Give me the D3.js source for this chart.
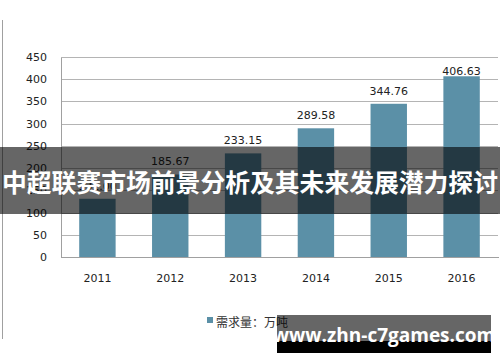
<!DOCTYPE html>
<html>
<head>
<meta charset="utf-8">
<script src="https://cdn.jsdelivr.net/npm/d3@7"></script>
<style>
  body { margin: 0; background: #fff; }
  svg { display: block; }
</style>
</head>
<body>
<div id="chart"></div>
<script>
const years = ["2011", "2012", "2013", "2014", "2015", "2016"];
const demand = [131.0, 185.67, 233.15, 289.58, 344.76, 406.63];
const yTicks = [0, 50, 100, 150, 200, 250, 300, 350, 400, 450];
const legendLabel = "需求量：万吨";
const title = "中超联赛市场前景分析及其未来发展潜力探讨";
const watermark = "www.zhn-c7games.com";

const W = 500, H = 362;
const margin = { top: 57, right: 2, bottom: 105, left: 61 };
const width = W - margin.left - margin.right,
  height = H - margin.top - margin.bottom;

const svg = d3.select("#chart").append("svg")
  .attr("width", W).attr("height", H);

// outer frame line on the left
svg.append("line")
  .attr("x1", 2.5).attr("x2", 2.5).attr("y1", 20).attr("y2", 339)
  .attr("stroke", "#a0a0a0");

const g = svg.append("g")
  .attr("transform", `translate(${margin.left},${margin.top})`);

const x = d3.scaleBand().domain(years).range([0, width]).paddingInner(0.5).paddingOuter(0.25);
const y = d3.scaleLinear().domain([0, 450]).range([height, 0]);

// grid
g.append("g")
  .call(d3.axisLeft(y).tickValues(yTicks).tickSize(-width).tickFormat(""))
  .call(s => s.select(".domain").remove())
  .selectAll("line").attr("stroke", "#b4b4b4").attr("shape-rendering", "crispEdges");

// y labels
g.append("g")
  .call(d3.axisLeft(y).tickValues(yTicks).tickSize(0).tickPadding(14))
  .call(s => s.select(".domain").attr("stroke", "#a0a0a0").attr("shape-rendering", "crispEdges"))
  .selectAll("text")
  .attr("font-family", "DejaVu Sans").attr("font-size", 11).attr("fill", "#222");

// bars
g.selectAll(".bar").data(demand).enter().append("rect")
  .attr("class", "bar")
  .attr("x", (d, i) => x(years[i]))
  .attr("width", x.bandwidth())
  .attr("y", d => y(d))
  .attr("height", d => height - y(d))
  .attr("fill", "#5b90a7");

// x axis
g.append("g")
  .attr("transform", `translate(0,${height})`)
  .call(d3.axisBottom(x).tickSize(0).tickPadding(17))
  .call(s => s.select(".domain").attr("stroke", "#a0a0a0").attr("shape-rendering", "crispEdges"))
  .selectAll("text")
  .attr("font-family", "DejaVu Sans").attr("font-size", 11).attr("fill", "#222");

// value labels
g.selectAll(".lbl").data(demand).enter().append("text")
  .attr("x", (d, i) => x(years[i]) + x.bandwidth() / 2)
  .attr("y", d => Math.max(y(d) - 9, y(410.5)))
  .attr("text-anchor", "middle")
  .attr("font-family", "DejaVu Sans").attr("font-size", 11).attr("fill", "#222")
  .text(d => d.toFixed(2));

// legend
svg.append("rect").attr("x", 207).attr("y", 317).attr("width", 6).attr("height", 6).attr("fill", "#5b90a7");
svg.append("text").attr("x", 216).attr("y", 327)
  .attr("font-family", "Noto Sans CJK SC").attr("font-size", 12).attr("fill", "#333")
  .text(legendLabel);

// title banner
svg.append("rect").attr("x", 0).attr("y", 147).attr("width", W).attr("height", 67)
  .attr("fill", "rgba(0,0,0,0.6)");
svg.append("text").attr("x", W / 2).attr("y", 192)
  .attr("text-anchor", "middle")
  .attr("font-family", "Noto Sans CJK SC").attr("font-weight", "bold")
  .attr("font-size", 24.8).attr("fill", "#fff")
  .text(title);

// watermark box
svg.append("rect").attr("x", 277).attr("y", 315).attr("width", 214).attr("height", 26)
  .attr("fill", "rgba(0,0,0,0.6)");
svg.append("rect").attr("x", 277).attr("y", 341).attr("width", 214).attr("height", 12)
  .attr("fill", "#000");
svg.append("text").attr("x", 384).attr("y", 342)
  .attr("text-anchor", "middle")
  .attr("font-family", "Open Sans").attr("font-weight", "bold")
  .attr("font-size", 19).attr("fill", "#fff")
  .text(watermark);
</script>
</body>
</html>
